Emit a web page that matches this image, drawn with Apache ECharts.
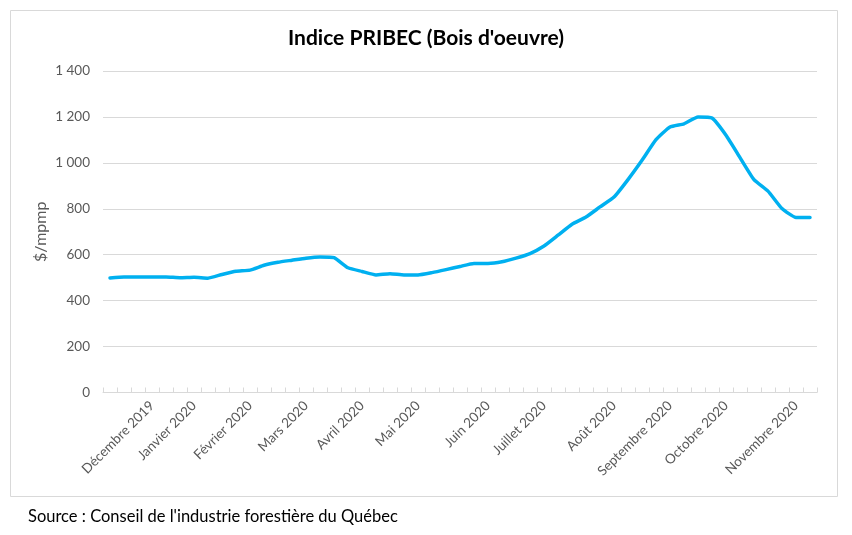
<!DOCTYPE html>
<html><head><meta charset="utf-8">
<script src="https://cdn.jsdelivr.net/npm/echarts@6/dist/echarts.min.js"></script>
<style>html,body{margin:0;padding:0;background:#fff}#c{width:852px;height:535px}</style>
</head><body><div id="c"></div>
<script>
const title = "Indice PRIBEC (Bois d'oeuvre)";
const yName = "$/mpmp";
const source = "Source : Conseil de l'industrie forestière du Québec";
// one category per weekly observation; month labels placed where they appear on the axis
const categories = ['', '', '', 'Décembre 2019', '', '', 'Janvier 2020', '', '', '', 'Février 2020', '', '', '', 'Mars 2020', '', '', '', 'Avril 2020', '', '', '', 'Mai 2020', '', '', '', '', 'Juin 2020', '', '', '', 'Juillet 2020', '', '', '', '', 'Août 2020', '', '', '', 'Septembre 2020', '', '', '', 'Octobre 2020', '', '', '', '', 'Novembre 2020', ''];
const values = [499, 503, 503, 503, 503, 500, 502, 498, 514, 528, 533, 554, 567, 576, 585, 590, 587, 543, 527, 512, 517, 512, 512, 522, 535, 549, 562, 562, 569, 585, 605, 638, 685, 733, 764, 808, 851, 927, 1011, 1101, 1156, 1170, 1200, 1195, 1120, 1023, 927, 877, 801, 762, 762];
const yTicks = [0, 200, 400, 600, 800, 1000, 1200, 1400];

const chart = echarts.init(document.getElementById('c'));
const font = 'Lato, "Open Sans", sans-serif';
chart.setOption({
  animation: false,
  textStyle: { fontFamily: font },
  title: { text: title, left: 'center', top: 23, textStyle: { fontFamily: font, fontSize: 21, fontWeight: 'bold', color: '#000' } },
  grid: { left: 103, right: 35, top: 71, bottom: 142.5 },
  graphic: [
    { type: 'rect', shape: { x: 10.5, y: 10.5, width: 827, height: 486 }, style: { fill: 'none', stroke: '#d9d9d9', lineWidth: 1 }, silent: true, z: -1 },
    { type: 'text', left: 28, top: 508, style: { text: source, fontFamily: font, fontSize: 16.5, fill: '#000' } }
  ],
  xAxis: {
    type: 'category', data: categories, boundaryGap: true,
    axisLine: { lineStyle: { color: '#d9d9d9', width: 1 } },
    axisTick: { show: true, interval: 0, inside: true, length: 5, lineStyle: { color: '#d9d9d9' } },
    axisLabel: { interval: 0, rotate: 45, color: '#595959', fontSize: 13.5, fontFamily: font, margin: 11 }
  },
  yAxis: {
    type: 'value', min: yTicks[0], max: yTicks[yTicks.length - 1], interval: 200,
    name: yName, nameLocation: 'middle', nameGap: 54, nameRotate: 90, nameMoveOverlap: false,
    nameTextStyle: { color: '#595959', fontSize: 16, fontFamily: font },
    axisLine: { show: false }, axisTick: { show: false },
    splitLine: { lineStyle: { color: '#d9d9d9', width: 1 } },
    axisLabel: { color: '#595959', fontSize: 13.5, fontFamily: font, margin: 13,
      formatter: v => String(v).replace(/\B(?=(\d{3})+(?!\d))/g, ' ') }
  },
  series: [{
    type: 'line', data: values, symbol: 'none', smooth: 0.15,
    lineStyle: { color: '#00b0f0', width: 3.5, cap: 'round', join: 'round' }
  }]
});
</script></body></html>
